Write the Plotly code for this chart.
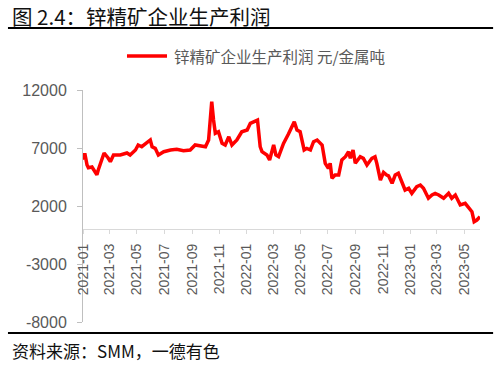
import plotly.graph_objects as go

# ---- data ----
dates = [
    "2021-01-04", "2021-01-05", "2021-01-10", "2021-01-13", "2021-01-21", "2021-01-28",
    "2021-02-01", "2021-02-04", "2021-02-17", "2021-02-26", "2021-03-03", "2021-03-10",
    "2021-03-25", "2021-04-09", "2021-04-16", "2021-04-28", "2021-05-04", "2021-05-12",
    "2021-05-24", "2021-05-31", "2021-06-04", "2021-06-11", "2021-06-18", "2021-06-30",
    "2021-07-15", "2021-07-29", "2021-08-13", "2021-08-24", "2021-08-28", "2021-09-08",
    "2021-09-19", "2021-10-01", "2021-10-08", "2021-10-13", "2021-10-15", "2021-10-19",
    "2021-10-23", "2021-10-30", "2021-11-07", "2021-11-14", "2021-11-22", "2021-11-29",
    "2021-12-10", "2021-12-21", "2022-01-02", "2022-01-09", "2022-01-20", "2022-01-25",
    "2022-01-31", "2022-02-04", "2022-02-15", "2022-02-21", "2022-03-02", "2022-03-07",
    "2022-03-13", "2022-03-24", "2022-04-04", "2022-04-12", "2022-04-17", "2022-04-23",
    "2022-04-30", "2022-05-09", "2022-05-15", "2022-05-23", "2022-05-30", "2022-06-07",
    "2022-06-18", "2022-06-25", "2022-07-02", "2022-07-06", "2022-07-10", "2022-07-17",
    "2022-07-25", "2022-08-01", "2022-08-09", "2022-08-16", "2022-08-20", "2022-08-26",
    "2022-08-31", "2022-09-11", "2022-09-18", "2022-09-26", "2022-10-07", "2022-10-14",
    "2022-10-18", "2022-10-26", "2022-11-02", "2022-11-09", "2022-11-13", "2022-11-21",
    "2022-11-28", "2022-12-05", "2022-12-13", "2022-12-20", "2022-12-28", "2023-01-04",
    "2023-01-15", "2023-01-23", "2023-01-30", "2023-02-10", "2023-02-18", "2023-02-25",
    "2023-03-05", "2023-03-16", "2023-03-27", "2023-04-03", "2023-04-11", "2023-04-22",
    "2023-05-03", "2023-05-10", "2023-05-18", "2023-05-23", "2023-05-29", "2023-06-05",
]
profit = [
    5970, 6550, 5535, 5300, 5360, 4845,
    4700, 5100, 6570, 6140, 5820, 6400,
    6400, 6570, 6400, 6830, 7260, 7110,
    7540, 7690, 7110, 6970, 6400, 6680,
    6830, 6890, 6770, 6830, 6830, 7260,
    7170, 7110, 7690, 10280, 10990, 9410,
    8270, 8400, 7400, 7260, 7970, 7260,
    7690, 8400, 8550, 9130, 9270, 9410,
    7110, 6680, 6400, 5970, 7260, 6400,
    6250, 7400, 8200, 8980, 9270, 8550,
    8400, 6830, 6970, 6830, 7540, 7690,
    7260, 5680, 5250, 5680, 4390, 4670,
    4670, 5970, 6250, 6680, 6110, 6830,
    5680, 6250, 6110, 5530, 6110, 6250,
    5680, 4240, 4900, 4670, 4600, 3960,
    4670, 4820, 4100, 3380, 3530, 3090,
    3670, 3810, 3530, 2670, 2950, 3090,
    2950, 2670, 3090, 2670, 2950, 2090,
    2230, 1940, 1510, 650, 790, 1080,
]
x_tickvals = [
    "2021-01-01", "2021-03-01", "2021-05-01", "2021-07-01", "2021-09-01", "2021-11-01",
    "2022-01-01", "2022-03-01", "2022-05-01", "2022-07-01", "2022-09-01", "2022-11-01",
    "2023-01-01", "2023-03-01", "2023-05-01",
]
x_ticktext = [d[:7] for d in x_tickvals]
y_tickvals = [-8000, -3000, 2000, 7000, 12000]
y_ticktext = [str(v) for v in y_tickvals]

series_name = "锌精矿企业生产利润 元/金属吨"
title_text = "图 2.4：锌精矿企业生产利润"
source_text = "资料来源：SMM，一德有色"

CJK = "Noto Sans CJK SC"
NUM = "Liberation Sans, Arial, sans-serif"
GREY = "#595959"
RED = "#FF0000"

fig = go.Figure()
fig.add_trace(go.Scatter(
    x=dates, y=profit, mode="lines", name=series_name,
    line=dict(color=RED, width=3.5), showlegend=False,
))

fig.update_layout(
    width=502, height=369,
    margin=dict(l=83, r=22, t=90, b=47),
    paper_bgcolor="white", plot_bgcolor="white",
    xaxis=dict(
        type="date",
        range=["2021-01-01", "2023-06-05"],
        tickvals=x_tickvals, ticktext=x_ticktext,
        tickangle=-90,
        tickfont=dict(family=NUM, size=14, color=GREY),
        showgrid=False, zeroline=False,
        showline=True, linecolor="#D9D9D9", linewidth=1,
        ticks="outside", ticklen=4, tickcolor="#D9D9D9",
        ticklabelstandoff=4,
        anchor="free", position=0.4,
    ),
    yaxis=dict(
        range=[-8000, 12000], domain=[0, 1],
        tickvals=y_tickvals, ticktext=y_ticktext,
        tickfont=dict(family=NUM, size=16, color=GREY),
        showgrid=False, zeroline=False,
        showline=True, linecolor="#BFBFBF", linewidth=1,
        ticks="outside", ticklen=5, tickcolor="#BFBFBF",
        ticklabelstandoff=7,
    ),
    annotations=[
        dict(text=title_text, xref="paper", yref="paper", x=-0.184, y=1.319,
             xanchor="left", yanchor="middle", showarrow=False,
             font=dict(family=CJK, size=20.5, color="#111111")),
        dict(text=source_text, xref="paper", yref="paper", x=-0.184, y=-0.1207,
             xanchor="left", yanchor="middle", showarrow=False,
             font=dict(family=CJK, size=17, color="#111111")),
        # legend text
        dict(text=series_name, xref="paper", yref="paper", x=0.2242, y=1.1466,
             xanchor="left", yanchor="middle", showarrow=False,
             font=dict(family=CJK, size=15.5, color=GREY)),
    ],
    shapes=[
        dict(type="line", xref="paper", yref="paper", x0=-0.189, x1=1.033,
             y0=1.267, y1=1.267, line=dict(color="black", width=2)),
        dict(type="line", xref="paper", yref="paper", x0=-0.189, x1=1.033,
             y0=-0.0474, y1=-0.0474, line=dict(color="black", width=2)),
        # legend line sample
        dict(type="line", xref="paper", yref="paper", x0=0.1108, x1=0.2116,
             y0=1.1466, y1=1.1466, line=dict(color=RED, width=3.5)),
    ],
)

# remove the browser's default 8px body margin so the figure fills the window
fig.write_html(
    "out.html",
    config={"displayModeBar": False},
    post_script="document.body.style.margin='0px';",
)
